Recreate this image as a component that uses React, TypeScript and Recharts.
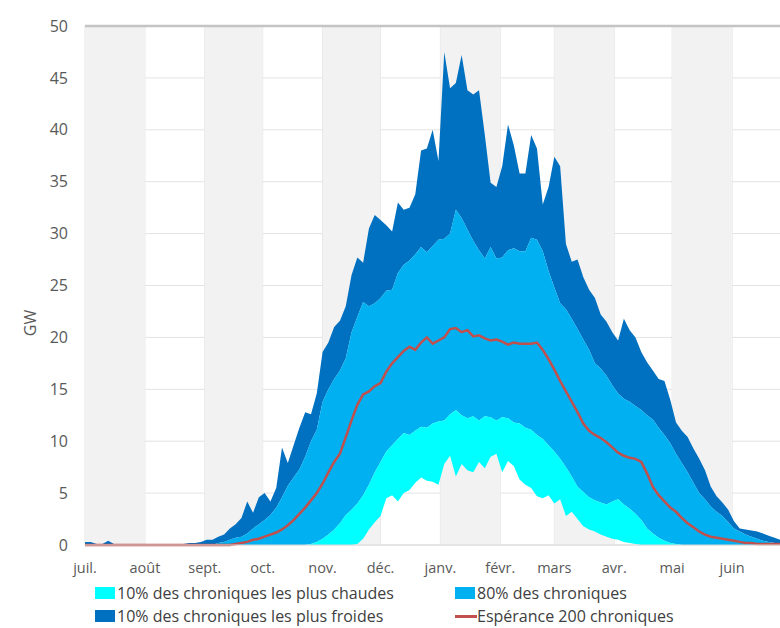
import {
  Area,
  CartesianGrid,
  ComposedChart,
  Line,
  ReferenceArea,
  ReferenceLine,
  XAxis,
  YAxis,
} from "recharts";

// one sample every 3 days, starting on 1 July
const STEP_DAYS = 3;
const YEAR_DAYS = 365;

const monthStarts = [0, 31, 62, 92, 123, 153, 184, 215, 243, 274, 304, 335];
const monthLabels = ["juil.", "août", "sept.", "oct.", "nov.", "déc.", "janv.", "févr.", "mars", "avr.", "mai", "juin"];
const yTicks = [0, 5, 10, 15, 20, 25, 30, 35, 40, 45, 50];

// upper envelope (coldest 10%)
const coldTop = [
  0.3, 0.3, 0.1, 0.1, 0.4, 0.1, 0, 0, 0, 0,
  0, 0, 0, 0, 0, 0, 0, 0.1, 0.2, 0.2,
  0.3, 0.5, 0.5, 0.8, 1.0, 1.6, 2.0, 2.6, 4.2, 3.1,
  4.6, 5.0, 4.2, 5.5, 9.4, 7.9, 9.6, 11.3, 12.8, 12.6,
  14.6, 18.6, 19.5, 21.0, 21.6, 23.0, 26.0, 27.7, 27.2, 30.5,
  31.8, 31.3, 30.8, 30.2, 33.0, 32.3, 32.5, 33.8, 38.0, 38.2,
  40.0, 37.0, 47.5, 44.0, 44.5, 47.2, 43.8, 43.4, 43.8, 39.5,
  34.9, 34.5, 36.5, 40.5, 38.5, 35.8, 35.8, 39.5, 38.2, 32.8,
  34.5, 37.4, 36.5, 29.0, 27.3, 27.5, 25.8, 24.6, 23.8, 22.2,
  21.5, 20.5, 19.7, 21.8, 20.7, 20.0, 18.6, 17.6, 16.8, 16.0,
  15.8, 14.0, 11.8, 11.0, 10.4, 9.3, 8.3, 7.2, 5.6, 4.7,
  4.1, 3.4, 2.3, 1.6, 1.5, 1.4, 1.3, 1.1, 0.9, 0.7,
  0.5, 0.3,
];

// top of the central 80%
const p90 = [
  0, 0, 0, 0, 0, 0, 0, 0, 0, 0,
  0, 0, 0, 0, 0, 0, 0, 0, 0, 0,
  0, 0, 0, 0.2, 0.3, 0.5, 0.7, 0.8, 1.1, 1.6,
  2.0, 2.4, 2.9, 3.6, 4.6, 5.7, 6.5, 7.3, 8.5, 10.0,
  11.1, 13.8, 15.0, 16.0, 16.8, 18.0, 20.5, 22.0, 23.4, 23.0,
  23.3, 23.8, 24.5, 24.6, 26.2, 27.0, 27.4, 28.0, 28.7, 28.2,
  28.8, 29.4, 29.5, 30.0, 32.3, 31.5, 30.4, 29.3, 28.4, 27.6,
  28.7, 27.6, 27.7, 28.4, 28.6, 28.3, 28.3, 29.6, 29.4, 28.3,
  26.4, 24.8, 23.3, 22.7, 21.8, 20.8, 19.8, 18.8, 17.5, 17.0,
  16.3, 15.4, 14.6, 14.1, 13.8, 13.4, 13.0, 12.5, 12.1, 11.3,
  10.6, 9.8, 8.8, 7.9, 7.0, 6.0, 5.0, 4.4, 3.7, 3.2,
  2.8, 2.2, 1.6, 1.3, 1.0, 0.8, 0.6, 0.4, 0.3, 0.2,
  0.1, 0.05,
];

// warmest 10%: upper and lower edges
const warmTop = [
  0, 0, 0, 0, 0, 0, 0, 0, 0, 0,
  0, 0, 0, 0, 0, 0, 0, 0, 0, 0,
  0, 0, 0, 0, 0, 0, 0, 0, 0, 0,
  0, 0, 0, 0, 0, 0, 0, 0, 0, 0.1,
  0.3, 0.6, 1.0, 1.5, 2.1, 2.9, 3.4, 4.0, 4.8, 5.8,
  7.0, 8.0, 9.0, 9.6, 10.2, 10.8, 10.6, 11.0, 11.4, 11.3,
  11.7, 11.9, 12.0, 12.6, 13.0, 12.5, 12.2, 12.4, 12.0, 12.4,
  12.3, 12.0, 12.3, 12.2, 11.8, 11.7, 11.3, 11.1, 10.6, 10.2,
  9.6, 9.0, 8.3, 7.5, 6.6, 5.6, 5.1, 4.6, 4.3, 4.1,
  3.9, 4.2, 4.4, 3.9, 3.5, 3.0, 2.4, 1.6, 1.1, 0.7,
  0.4, 0.2, 0.1, 0, 0, 0, 0, 0, 0, 0,
  0, 0, 0, 0, 0, 0, 0, 0, 0, 0,
  0, 0,
];

const warmBottom = [
  0, 0, 0, 0, 0, 0, 0, 0, 0, 0,
  0, 0, 0, 0, 0, 0, 0, 0, 0, 0,
  0, 0, 0, 0, 0, 0, 0, 0, 0, 0,
  0, 0, 0, 0, 0, 0, 0, 0, 0, 0,
  0, 0, 0, 0, 0, 0, 0, 0.1, 0.6, 1.5,
  2.2, 2.8, 4.5, 4.8, 4.2, 5.0, 5.3, 6.0, 6.5, 6.2,
  6.1, 5.8, 7.8, 8.6, 6.6, 7.8, 7.2, 7.0, 8.0, 7.4,
  8.5, 8.8, 7.0, 8.1, 7.6, 6.3, 5.8, 5.5, 4.7, 4.5,
  4.8, 4.0, 4.4, 2.8, 3.2, 2.5, 1.8, 1.5, 1.3, 1.0,
  0.8, 0.6, 0.5, 0.3, 0.2, 0.1, 0, 0, 0, 0,
  0, 0, 0, 0, 0, 0, 0, 0, 0, 0,
  0, 0, 0, 0, 0, 0, 0, 0, 0, 0,
  0, 0,
];

// expectation over the 200 scenarios
const mean = [
  0, 0, 0, 0, 0, 0, 0, 0, 0, 0,
  0, 0, 0, 0, 0, 0, 0, 0, 0, 0,
  0, 0, 0, 0, 0, 0, 0.1, 0.2, 0.3, 0.5,
  0.6, 0.8, 1.0, 1.2, 1.5, 1.9, 2.4, 3.0, 3.6, 4.3,
  5.0, 5.9, 7.0, 8.0, 8.8, 10.4, 12.0, 13.5, 14.5, 14.8,
  15.3, 15.6, 16.7, 17.5, 18.1, 18.7, 19.1, 18.8, 19.5, 20.0,
  19.4, 19.7, 20.0, 20.8, 20.9, 20.5, 20.7, 20.1, 20.2, 19.9,
  19.7, 19.8, 19.6, 19.3, 19.5, 19.4, 19.4, 19.4, 19.5, 18.8,
  17.9, 16.9, 15.8, 14.8, 13.8, 12.8, 11.7, 11.0, 10.6, 10.3,
  9.9, 9.4, 8.9, 8.6, 8.4, 8.3, 8.0, 6.9, 5.6, 4.8,
  4.2, 3.6, 3.2, 2.6, 2.1, 1.7, 1.3, 1.0, 0.8, 0.7,
  0.6, 0.5, 0.4, 0.3, 0.2, 0.2, 0.1, 0.1, 0.1, 0.1,
  0.1, 0.1,
];

const COLORS = {
  warm: "#00FFFF",
  mid: "#00B0F0",
  cold: "#0070C0",
  mean: "#C0504D",
  band: "#F2F2F2",
  grid: "#E3E3E3",
  text: "#595959",
};

const FONT = "'Open Sans', 'DejaVu Sans', sans-serif";

const legendItems = [
  { label: "10% des chroniques les plus chaudes", color: COLORS.warm, kind: "box" },
  { label: "80% des chroniques", color: COLORS.mid, kind: "box" },
  { label: "10% des chroniques les plus froides", color: COLORS.cold, kind: "box" },
  { label: "Espérance 200 chroniques", color: COLORS.mean, kind: "line" },
];

const data = mean.map((m, i) => ({
  day: i * STEP_DAYS,
  warm: [warmBottom[i], warmTop[i]],
  mid: [warmTop[i], p90[i]],
  cold: [p90[i], coldTop[i]],
  mean: m,
}));

// every other month gets a grey background
const bands = monthStarts
  .map((start, i) => ({ start, end: monthStarts[i + 1] ?? YEAR_DAYS, i }))
  .filter((b) => b.i % 2 === 0);

function GwLabel() {
  return (
    <text
      x={36}
      y={323}
      transform="rotate(-90, 36, 323)"
      textAnchor="middle"
      fill={COLORS.text}
      fontSize={16}
      fontFamily={FONT}
    >
      GW
    </text>
  );
}

function ChartLegend() {
  return (
    <div
      style={{
        position: "absolute",
        left: 95,
        top: 583,
        display: "grid",
        gridTemplateColumns: "360px 330px",
        rowGap: 3,
        fontFamily: FONT,
        fontSize: 16,
        color: "#404040",
        lineHeight: "20px",
      }}
    >
      {legendItems.map((it) => (
        <div key={it.label} style={{ display: "flex", alignItems: "center", whiteSpace: "nowrap" }}>
          {it.kind === "box" ? (
            <span style={{ width: 20, height: 12, background: it.color, marginRight: 2 }} />
          ) : (
            <span style={{ width: 22, height: 3, background: it.color, marginRight: 0 }} />
          )}
          {it.label}
        </div>
      ))}
    </div>
  );
}

export default function App() {
  return (
    <div
      style={{
        position: "absolute",
        left: 0,
        top: 0,
        width: 780,
        height: 628,
        overflow: "hidden",
        background: "#fff",
      }}
    >
      <ComposedChart
        width={790}
        height={628}
        data={data}
        margin={{ top: 26, right: 0, bottom: 53, left: 0 }}
      >
        {bands.map((b) => (
          <ReferenceArea
            key={b.start}
            x1={b.start}
            x2={b.end}
            y1={0}
            y2={50}
            fill={COLORS.band}
            fillOpacity={1}
            stroke="none"
            ifOverflow="hidden"
          />
        ))}
        <CartesianGrid stroke={COLORS.grid} />
        <XAxis
          dataKey="day"
          type="number"
          domain={[0, YEAR_DAYS]}
          ticks={monthStarts}
          tickFormatter={(d: number) => monthLabels[monthStarts.indexOf(d)]}
          interval={0}
          allowDataOverflow
          tickLine={false}
          tickSize={0}
          tickMargin={18}
          height={30}
          axisLine={{ stroke: "#D9D9D9" }}
          tick={{ fill: COLORS.text, fontSize: 14.5, fontFamily: FONT }}
        />
        <YAxis
          domain={[0, 50]}
          ticks={yTicks}
          width={85}
          axisLine={false}
          tickLine={false}
          tickSize={0}
          tickMargin={17}
          tick={{ fill: COLORS.text, fontSize: 16, fontFamily: FONT }}
          label={<GwLabel />}
        />
        <Area
          type="linear"
          dataKey="cold"
          stroke="none"
          fill={COLORS.cold}
          fillOpacity={1}
          isAnimationActive={false}
        />
        <Area
          type="linear"
          dataKey="mid"
          stroke="none"
          fill={COLORS.mid}
          fillOpacity={1}
          isAnimationActive={false}
        />
        <Area
          type="linear"
          dataKey="warm"
          stroke="none"
          fill={COLORS.warm}
          fillOpacity={1}
          isAnimationActive={false}
        />
        <Line
          type="linear"
          dataKey="mean"
          stroke={COLORS.mean}
          strokeWidth={2.5}
          dot={false}
          isAnimationActive={false}
        />
        <ReferenceLine y={50} stroke="#C4C4C4" strokeWidth={2.5} />
      </ComposedChart>
      <ChartLegend />
    </div>
  );
}
